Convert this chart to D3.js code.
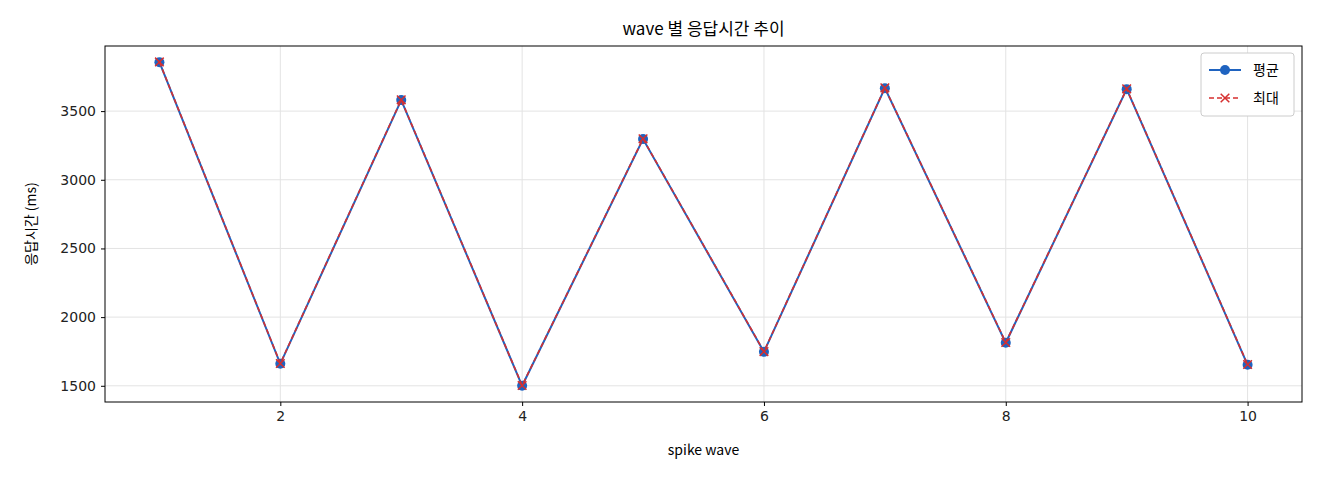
<!DOCTYPE html>
<html><head><meta charset="utf-8">
<script src="https://cdn.jsdelivr.net/npm/d3@7"></script>
<style>body{margin:0;background:#fff;font-family:"Noto Sans CJK KR","DejaVu Sans",sans-serif}</style>
</head><body><div class="graph"></div>
<script>
var waves = [1,2,3,4,5,6,7,8,9,10]
var avgMs = [3856,1660,3580,1500,3296,1747,3667,1813,3660,1653]
var maxMs = [3858,1662,3582,1502,3298,1749,3669,1815,3662,1655]
var yTicks = [1500,2000,2500,3000,3500]
var xTicks = [2,4,6,8,10]

var width = 1320, height = 480
var m = {left:105, right:18, top:46, bottom:78}

var svg = d3.select('.graph').append('svg').attr('width', width).attr('height', height)

var x = d3.scaleLinear().domain([0.55, 10.45]).range([m.left, width - m.right])
var y = d3.scaleLinear().domain([1382, 3974]).range([height - m.bottom, m.top])

var g = svg.append('g')
g.selectAll('.gx').data(xTicks).join('line')
  .attr('x1', d => x(d)).attr('x2', d => x(d)).attr('y1', m.top).attr('y2', height - m.bottom)
  .attr('stroke', '#e3e3e3')
g.selectAll('.gy').data(yTicks).join('line')
  .attr('y1', d => y(d)).attr('y2', d => y(d)).attr('x1', m.left).attr('x2', width - m.right)
  .attr('stroke', '#e3e3e3')

var xAxis = svg.append('g').attr('transform', `translate(0,${height - m.bottom})`)
  .call(d3.axisBottom(x).tickValues(xTicks).tickFormat(d3.format('d')).tickSize(4).tickPadding(5))
var yAxis = svg.append('g').attr('transform', `translate(${m.left},0)`)
  .call(d3.axisLeft(y).tickValues(yTicks).tickFormat(d3.format('d')).tickSize(4).tickPadding(5))
;[xAxis, yAxis].forEach(a => {
  a.select('.domain').remove()
  a.selectAll('text').attr('font-size', 14).attr('fill', '#222').attr('font-family', 'DejaVu Sans')
})

svg.append('rect').attr('x', m.left).attr('y', m.top)
  .attr('width', width - m.left - m.right).attr('height', height - m.top - m.bottom)
  .attr('fill', 'none').attr('stroke', '#000')

var line = d3.line().x((d, i) => x(waves[i])).y(d => y(d))

svg.append('path').datum(avgMs).attr('d', line).attr('fill', 'none').attr('stroke', '#1f63c0').attr('stroke-width', 2)
svg.selectAll('.pa').data(avgMs).join('circle')
  .attr('cx', (d, i) => x(waves[i])).attr('cy', d => y(d)).attr('r', 5).attr('fill', '#1f63c0')

svg.append('path').datum(maxMs).attr('d', line).attr('fill', 'none').attr('stroke', '#d62f2f')
  .attr('stroke-width', 1.6).attr('stroke-dasharray', '5,3')
var cross = d3.symbol().type(d3.symbolX).size(50)
svg.selectAll('.pm').data(maxMs).join('path')
  .attr('transform', (d, i) => `translate(${x(waves[i])},${y(d)})`)
  .attr('d', cross).attr('fill', 'none').attr('stroke', '#d62f2f').attr('stroke-width', 1.5)

var lg = svg.append('g').attr('transform', `translate(${width - m.right - 101},${m.top + 7})`)
lg.append('rect').attr('width', 93).attr('height', 63).attr('rx', 3)
  .attr('fill', '#fff').attr('stroke', '#ccc')
lg.append('line').attr('x1', 8).attr('x2', 40).attr('y1', 17).attr('y2', 17).attr('stroke', '#1f63c0').attr('stroke-width', 2)
lg.append('circle').attr('cx', 24).attr('cy', 17).attr('r', 5).attr('fill', '#1f63c0')
lg.append('text').attr('x', 52).attr('y', 22).attr('font-size', 14).text('평균')
lg.append('line').attr('x1', 8).attr('x2', 40).attr('y1', 45).attr('y2', 45).attr('stroke', '#d62f2f')
  .attr('stroke-width', 1.6).attr('stroke-dasharray', '5,3')
lg.append('path').attr('transform', 'translate(24,45)').attr('d', cross).attr('fill', 'none').attr('stroke', '#d62f2f').attr('stroke-width', 1.5)
lg.append('text').attr('x', 52).attr('y', 50).attr('font-size', 14).text('최대')

svg.append('text').attr('x', (m.left + width - m.right) / 2).attr('y', 35).attr('text-anchor', 'middle')
  .attr('font-size', 17).text('wave 별 응답시간 추이')
svg.append('text').attr('x', (m.left + width - m.right) / 2).attr('y', 455).attr('text-anchor', 'middle')
  .attr('font-size', 14).text('spike wave')
svg.append('text').attr('transform', `translate(36,${(m.top + height - m.bottom) / 2}) rotate(-90)`)
  .attr('text-anchor', 'middle').attr('font-size', 14).text('응답시간 (ms)')
</script></body></html>
